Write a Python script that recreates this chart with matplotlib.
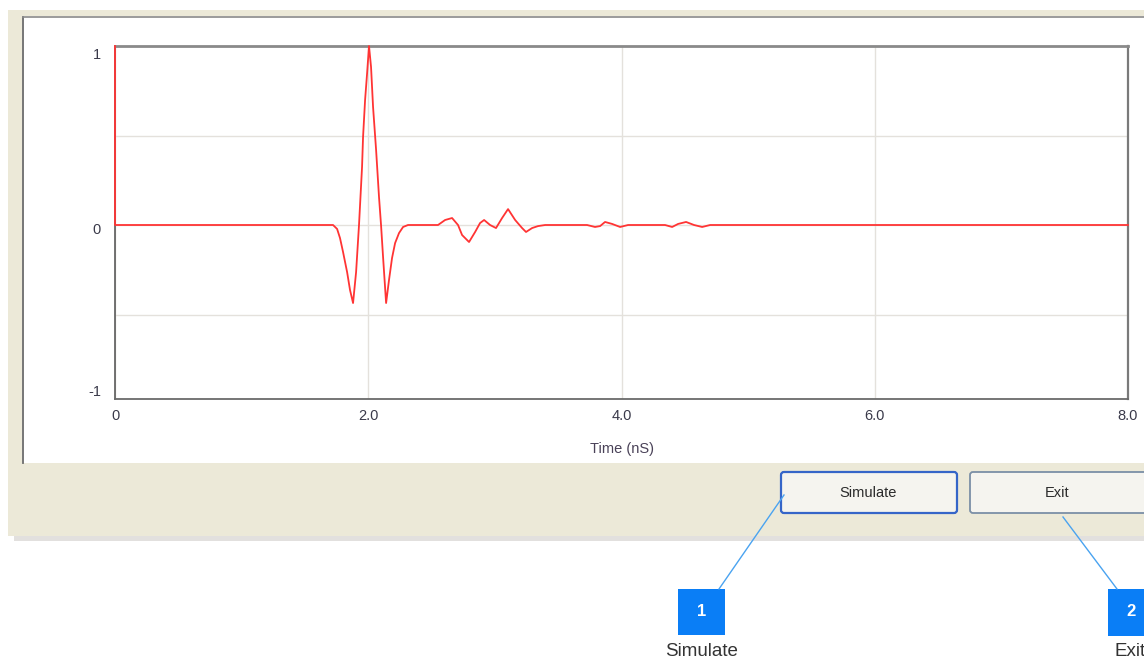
import matplotlib
matplotlib.use("Agg")
import matplotlib.pyplot as plt
from matplotlib.patches import Rectangle, FancyBboxPatch

plt.rcParams['font.family'] = ['Liberation Sans', 'DejaVu Sans']

# simulated pulse response, time in nS and normalised amplitude
time_ns = [0.0, 0.0, 1.722, 1.754, 1.777, 1.801, 1.833, 1.856, 1.880, 1.904, 1.927,
           1.951, 1.959, 1.975, 1.991, 2.006, 2.022, 2.038, 2.062, 2.085, 2.101,
           2.117, 2.141, 2.164, 2.188, 2.212, 2.243, 2.275, 2.314,
           2.551, 2.607, 2.662, 2.709, 2.741, 2.796, 2.844, 2.883, 2.915, 2.962,
           3.009, 3.057, 3.104, 3.160, 3.215, 3.246, 3.294, 3.341, 3.397,
           3.728, 3.791, 3.831, 3.870, 3.926, 3.989, 4.052,
           4.344, 4.400, 4.447, 4.510, 4.573, 4.637, 4.700, 8.0]
amplitude = [1.0, 0.0, 0.0, -0.022, -0.073, -0.151, -0.263, -0.363, -0.436, -0.263, 0.0,
             0.324, 0.492, 0.698, 0.849, 1.0, 0.883, 0.659, 0.419, 0.156, 0.0,
             -0.179, -0.436, -0.307, -0.184, -0.101, -0.045, -0.011, 0.0,
             0.0, 0.028, 0.039, 0.0, -0.056, -0.095, -0.039, 0.011, 0.028, 0.0,
             -0.017, 0.039, 0.089, 0.028, -0.017, -0.039, -0.017, -0.006, 0.0,
             0.0, -0.011, -0.006, 0.017, 0.006, -0.011, 0.0,
             0.0, -0.011, 0.006, 0.017, 0.0, -0.011, 0.0, 0.0]

x_ticks = [0, 2, 4, 6, 8]
x_labels = ['0', '2.0', '4.0', '6.0', '8.0']
y_label_values = [1, 0, -1]
y_labels = ['1', '0', '-1']
y_grid = [-0.5, 0, 0.5]

W, H = 1144, 662
fig = plt.figure(figsize=(W / 100, H / 100), dpi=100)
fig.patch.set_facecolor('white')

# --- window chrome drawn in pixel coordinates ---
bg = fig.add_axes([0, 0, 1, 1])
bg.set_xlim(0, W)
bg.set_ylim(H, 0)
bg.axis('off')

bg.add_patch(Rectangle((14, 536), W, 5, fc='#e2e0de', ec='none'))
bg.add_patch(Rectangle((8, 10), W, 526, fc='#ece9d8', ec='none'))
bg.add_patch(Rectangle((22, 16), W, 447, fc='white', ec='none'))
bg.plot([22.5, 22.5], [17, 463], color='#6b6b6b', lw=1.3)
bg.plot([23, W], [16.5, 16.5], color='#8a8a8a', lw=1.2)

# buttons
bg.add_patch(FancyBboxPatch((781, 472), 176, 41, boxstyle='round,pad=0,rounding_size=3',
                            fc='#f5f4ef', ec='#3565c8', lw=1.6))
bg.add_patch(FancyBboxPatch((970, 472), 200, 41, boxstyle='round,pad=0,rounding_size=3',
                            fc='#f5f4ef', ec='#7b8fa6', lw=1.3))
bg.text(868, 493, 'Simulate', ha='center', va='center', fontsize=10.5, color='#2a2a2a')
bg.text(1057, 493, 'Exit', ha='center', va='center', fontsize=10.5, color='#2a2a2a')

# numbered callouts
callout_blue = '#0a7ef6'
bg.plot([719, 784], [589, 495], color='#4aa3f0', lw=1.0)
bg.plot([1063, 1117], [517, 589], color='#4aa3f0', lw=1.0)
bg.add_patch(Rectangle((678, 589), 47, 46, fc=callout_blue, ec='none'))
bg.add_patch(Rectangle((1108, 589), 50, 47, fc=callout_blue, ec='none'))
bg.text(701.5, 612, '1', ha='center', va='center', fontsize=12, fontweight='bold', color='white')
bg.text(1131, 612, '2', ha='center', va='center', fontsize=12, fontweight='bold', color='white')
bg.text(701.5, 652, 'Simulate', ha='center', va='center', fontsize=13.5, color='#333333')
bg.text(1115, 652, 'Exit', ha='left', va='center', fontsize=13.5, color='#333333')

# --- the plot itself ---
left, right, top, bottom = 115, 1128, 46, 399
ax = fig.add_axes([left / W, (H - bottom) / H, (right - left) / W, (bottom - top) / H])
ax.set_facecolor('white')
ax.plot(time_ns, amplitude, color='#ff3434', lw=1.3, zorder=3,
        solid_joinstyle='round', clip_on=False)

ax.set_xlim(0, 8)
ax.set_ylim(-0.972, 1.0)
ax.set_xticks(x_ticks)
ax.set_xticklabels(x_labels)
ax.set_yticks(y_grid)
ax.set_yticklabels([])
ax.tick_params(length=0, labelsize=10.5, labelcolor='#3a3a4a', pad=7)
ax.grid(True, color='#e4e1dc', lw=1.0)
ax.set_axisbelow(True)
ax.set_xlabel('Time (nS)', fontsize=10.5, color='#4a4258', labelpad=14)

for v, lab in zip(y_label_values, y_labels):
    yv = max(v, -0.972)
    dy = {1: -9, 0: -5, -1: 7}[v]
    ax.annotate(lab, xy=(0, yv), xytext=(-14, dy), textcoords='offset pixels',
                ha='right', va='center', fontsize=10.5, color='#3a3a4a')

ax.spines['left'].set_color('#5a5a5a')
ax.spines['left'].set_linewidth(1.2)
ax.spines['left'].set_zorder(2)
ax.spines['bottom'].set_color('#6a6a6a')
ax.spines['bottom'].set_linewidth(1.3)
ax.spines['top'].set_color('#8a8a8a')
ax.spines['top'].set_linewidth(2.0)
ax.spines['right'].set_color('#7a7a7a')
ax.spines['right'].set_linewidth(1.6)

fig.savefig('out.png', dpi=100)
